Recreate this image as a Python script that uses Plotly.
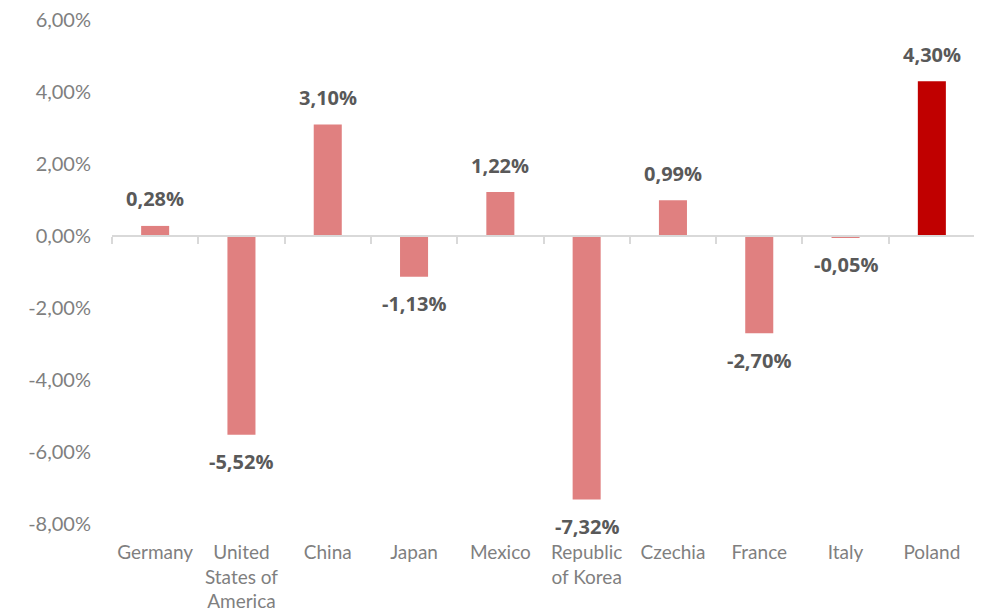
import plotly.graph_objects as go

categories = ["Germany", "United<br>States of<br>America", "China", "Japan", "Mexico",
              "Republic<br>of Korea", "Czechia", "France", "Italy", "Poland"]
values = [0.28, -5.52, 3.10, -1.13, 1.22, -7.32, 0.99, -2.70, -0.05, 4.30]
bar_colors = ["#E08080"] * 9 + ["#C00000"]
y_ticks = [-8, -6, -4, -2, 0, 2, 4, 6]


def pct(v):
    return f"{v:.2f}%".replace(".", ",")


y_min, y_max = -8, 6

fig = go.Figure()
fig.add_trace(go.Bar(
    x=categories, y=values, marker=dict(color=bar_colors, line=dict(width=0)),
    hoverinfo="skip",
))
# invisible twin to draw the category axis line at zero
fig.add_trace(go.Bar(
    x=categories, y=values, xaxis="x2", opacity=0, hoverinfo="skip", showlegend=False,
))

# data labels, offset from the bar end
for c, v in zip(categories, values):
    fig.add_annotation(
        x=c, y=v, xref="x", yref="y", text=pct(v), showarrow=False,
        yanchor="middle", yshift=27 if v >= 0 else -27,
        font=dict(family="Open Sans", size=20, color="#595959", weight="bold"),
    )

fig.update_layout(
    width=982, height=609,
    margin=dict(l=104, r=15, t=12, b=93),
    plot_bgcolor="white", paper_bgcolor="white",
    showlegend=False,
    bargap=0.675,
    xaxis=dict(
        type="category", showline=False, ticks="", showgrid=False, automargin=False,
        tickfont=dict(family="Lato", size=19, color="#7F7F7F"),
        ticklabelstandoff=15, ticklabeloverflow="allow",
    ),
    xaxis2=dict(
        type="category", overlaying="x", matches="x", anchor="free",
        position=(0 - y_min) / (y_max - y_min), side="bottom",
        showline=True, linecolor="#D9D9D9", linewidth=1.5,
        ticks="outside", tickson="boundaries", ticklen=7, tickcolor="#D9D9D9",
        tickwidth=1.5, showticklabels=False, showgrid=False, automargin=False,
    ),
    yaxis=dict(
        range=[y_min, y_max], tickvals=y_ticks, ticktext=[pct(v) for v in y_ticks],
        showgrid=False, zeroline=False, showline=False, automargin=False,
        tickfont=dict(family="Lato", size=20, color="#7F7F7F"),
        ticklabelstandoff=20, ticklabeloverflow="allow",
    ),
)

fig.write_html("out.html")
